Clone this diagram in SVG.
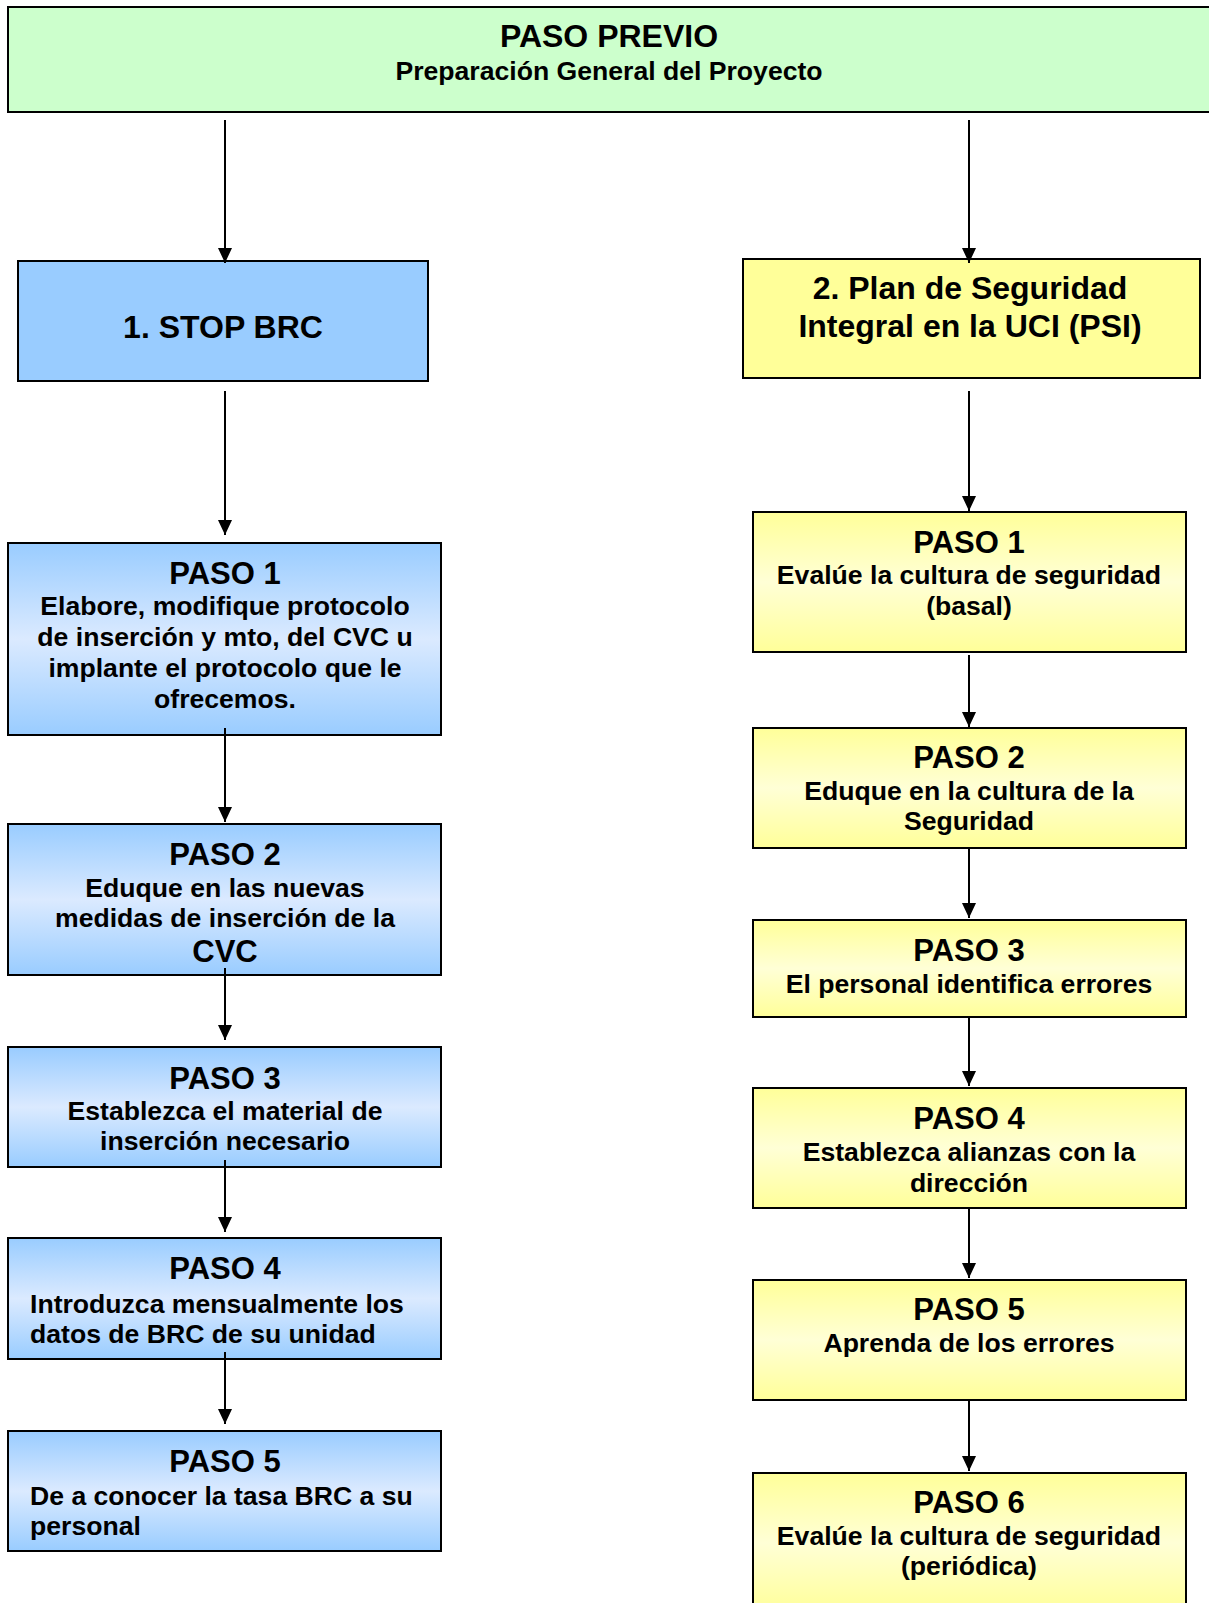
<svg xmlns="http://www.w3.org/2000/svg" width="1209" height="1603" viewBox="0 0 1209 1603">
<style>
text{font-family:"Liberation Sans",Arial,sans-serif;font-weight:bold;fill:#000}
.t{font-size:31px;text-anchor:middle}
.b{font-size:26.6px;text-anchor:middle}
.bl{font-size:26.6px;text-anchor:start}
.h{font-size:32px;text-anchor:middle}
.box{stroke:#000;stroke-width:2}
.blue{fill:url(#gBlue)}
.yel{fill:url(#gYel)}
.conn line{stroke:#000;stroke-width:2;marker-end:url(#arr)}
</style>
<defs>
<linearGradient id="gBlue" x1="0" y1="0" x2="0" y2="1">
<stop offset="0" stop-color="#99ccff"/>
<stop offset="0.5" stop-color="#dbeaff"/>
<stop offset="1" stop-color="#99ccff"/>
</linearGradient>
<linearGradient id="gYel" x1="0" y1="0" x2="0" y2="1">
<stop offset="0" stop-color="#ffff99"/>
<stop offset="0.5" stop-color="#ffffd6"/>
<stop offset="1" stop-color="#ffff99"/>
</linearGradient>
<marker id="arr" markerUnits="userSpaceOnUse" markerWidth="16" markerHeight="16" refX="15" refY="8" orient="auto">
<path d="M0,1 L15,8 L0,15 Z" fill="#000"/>
</marker>
</defs>

<g id="paso-previo">
<rect class="box" x="8" y="7" width="1205" height="105" fill="#ccffcc"/>
<text x="609" y="47" style="font-size:32px;text-anchor:middle">PASO PREVIO</text>
<text x="609" y="80" class="b">Preparación General del Proyecto</text>
</g>

<g id="stop-brc">
<rect class="box" x="18" y="261" width="410" height="120" fill="#99ccff"/>
<text x="223" y="338" class="h">1. STOP BRC</text>
</g>

<g id="psi">
<rect class="box" x="743" y="259" width="457" height="119" fill="#ffff99"/>
<text x="970" y="299" class="h">2. Plan de Seguridad</text>
<text x="970" y="337" class="h">Integral en la UCI (PSI)</text>
</g>

<g id="l-paso1">
<rect class="box blue" x="8" y="543" width="433" height="192"/>
<text x="225" y="584" class="t">PASO 1</text>
<text x="225" y="615" class="b">Elabore, modifique protocolo</text>
<text x="225" y="646" class="b">de inserción y mto, del CVC u</text>
<text x="225" y="677" class="b">implante el protocolo que le</text>
<text x="225" y="708" class="b">ofrecemos.</text>
</g>

<g id="l-paso2">
<rect class="box blue" x="8" y="824" width="433" height="151"/>
<text x="225" y="865" class="t">PASO 2</text>
<text x="225" y="897" class="b">Eduque en las nuevas</text>
<text x="225" y="927" class="b">medidas de inserción de la</text>
<text x="225" y="962" class="t">CVC</text>
</g>

<g id="l-paso3">
<rect class="box blue" x="8" y="1047" width="433" height="120"/>
<text x="225" y="1089" class="t">PASO 3</text>
<text x="225" y="1120" class="b">Establezca el material de</text>
<text x="225" y="1150" class="b">inserción necesario</text>
</g>

<g id="l-paso4">
<rect class="box blue" x="8" y="1238" width="433" height="121"/>
<text x="225" y="1279" class="t">PASO 4</text>
<text x="30" y="1313" class="bl">Introduzca mensualmente los</text>
<text x="30" y="1343" class="bl">datos de BRC de su unidad</text>
</g>

<g id="l-paso5">
<rect class="box blue" x="8" y="1431" width="433" height="120"/>
<text x="225" y="1472" class="t">PASO 5</text>
<text x="30" y="1505" class="bl">De a conocer la tasa BRC a su</text>
<text x="30" y="1535" class="bl">personal</text>
</g>

<g id="r-paso1">
<rect class="box yel" x="753" y="512" width="433" height="140"/>
<text x="969" y="553" class="t">PASO 1</text>
<text x="969" y="584" class="b">Evalúe la cultura de seguridad</text>
<text x="969" y="615" class="b">(basal)</text>
</g>

<g id="r-paso2">
<rect class="box yel" x="753" y="728" width="433" height="120"/>
<text x="969" y="768" class="t">PASO 2</text>
<text x="969" y="800" class="b">Eduque en la cultura de la</text>
<text x="969" y="830" class="b">Seguridad</text>
</g>

<g id="r-paso3">
<rect class="box yel" x="753" y="920" width="433" height="97"/>
<text x="969" y="961" class="t">PASO 3</text>
<text x="969" y="993" class="b">El personal identifica errores</text>
</g>

<g id="r-paso4">
<rect class="box yel" x="753" y="1088" width="433" height="120"/>
<text x="969" y="1129" class="t">PASO 4</text>
<text x="969" y="1161" class="b">Establezca alianzas con la</text>
<text x="969" y="1192" class="b">dirección</text>
</g>

<g id="r-paso5">
<rect class="box yel" x="753" y="1280" width="433" height="120"/>
<text x="969" y="1320" class="t">PASO 5</text>
<text x="969" y="1352" class="b">Aprenda de los errores</text>
</g>

<g id="r-paso6">
<rect class="box yel" x="753" y="1473" width="433" height="140"/>
<text x="969" y="1513" class="t">PASO 6</text>
<text x="969" y="1545" class="b">Evalúe la cultura de seguridad</text>
<text x="969" y="1575" class="b">(periódica)</text>
</g>

<g id="connectors" class="conn">
<line x1="225" y1="120" x2="225" y2="263"/>
<line x1="225" y1="391" x2="225" y2="535"/>
<line x1="225" y1="728" x2="225" y2="822"/>
<line x1="225" y1="968" x2="225" y2="1040"/>
<line x1="225" y1="1160" x2="225" y2="1232"/>
<line x1="225" y1="1352" x2="225" y2="1424"/>
<line x1="969" y1="120" x2="969" y2="263"/>
<line x1="969" y1="391" x2="969" y2="511"/>
<line x1="969" y1="655" x2="969" y2="727"/>
<line x1="969" y1="848" x2="969" y2="918"/>
<line x1="969" y1="1017" x2="969" y2="1086"/>
<line x1="969" y1="1208" x2="969" y2="1278"/>
<line x1="969" y1="1400" x2="969" y2="1471"/>
</g>
</svg>
